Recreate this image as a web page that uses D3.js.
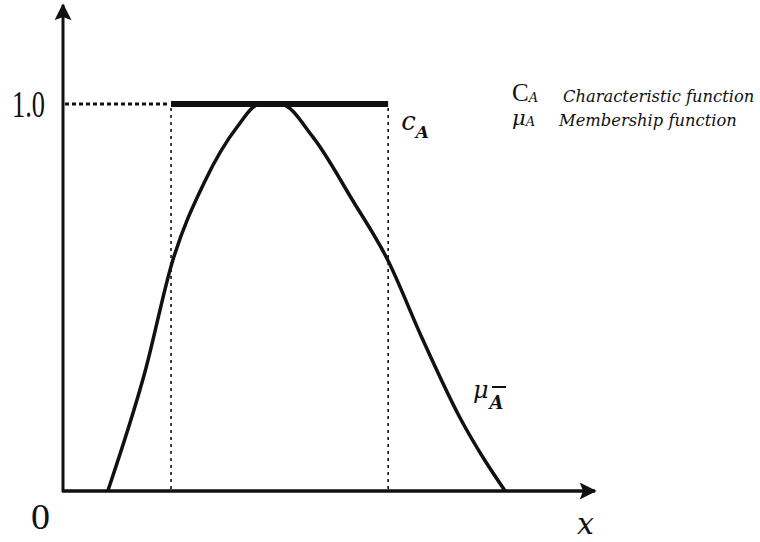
<!DOCTYPE html>
<html>
<head>
<meta charset="utf-8">
<script src="https://cdn.jsdelivr.net/npm/d3@7/dist/d3.min.js"></script>
<style>
  html, body { margin: 0; padding: 0; background: #fff; }
  svg { display: block; }
  text { font-family: "Liberation Serif", "DejaVu Serif", serif; fill: #111; }
  text.it, tspan.it { font-family: "DejaVu Serif", "Liberation Serif", serif; font-style: italic; }
</style>
</head>
<body>
<svg id="chart" width="760" height="542"></svg>
<script>
// Membership function of the fuzzy set (x in arbitrary units, grade in [0,1])
const membershipX = [0.85, 1.56, 2.07, 2.69, 3.30, 3.74, 4.12, 4.74, 5.50, 6.15, 6.83, 7.53, 8.00, 8.39];
const membershipY = [0.00, 0.31, 0.59, 0.80, 0.94, 1.00, 1.00, 0.915, 0.75, 0.60, 0.39, 0.19, 0.08, 0.00];

// Characteristic (crisp) function: 1 on [start, end], 0 elsewhere
const charInterval = [2.05, 6.17];
const charLevel = 1.0;

// Axis labels
const yTickLabels = ["0", "1.0"];
const yTickValues = [0, 1];

// Legend entries
const legendSymbols = ["C", "μ"];
const legendSubs = ["A", "A"];
const legendTexts = ["Characteristic function", "Membership function"];

const svg = d3.select("#chart");
const x = d3.scaleLinear().domain([0, 10]).range([63, 590]);
const y = d3.scaleLinear().domain([0, 1]).range([491, 104]);

const ink = "#111";

// Arrowhead marker
svg.append("defs").append("marker")
  .attr("id", "arrow")
  .attr("viewBox", "0 0 10 10")
  .attr("refX", 9).attr("refY", 5)
  .attr("markerUnits", "userSpaceOnUse")
  .attr("markerWidth", 24).attr("markerHeight", 17)
  .attr("orient", "auto")
  .append("path").attr("d", "M0,0 L10,5 L0,10 L2,5 Z").attr("fill", ink);

// Guide lines (dotted) at the characteristic interval
svg.append("line")
  .attr("x1", x(0) + 2).attr("x2", x(charInterval[0]) - 2)
  .attr("y1", y(charLevel)).attr("y2", y(charLevel))
  .attr("stroke", ink).attr("stroke-width", 3)
  .attr("stroke-dasharray", "4,3");
charInterval.forEach(v => {
  svg.append("line")
    .attr("x1", x(v)).attr("x2", x(v))
    .attr("y1", y(charLevel) + 4).attr("y2", y(0))
    .attr("stroke", ink).attr("stroke-width", 1.6)
    .attr("stroke-dasharray", "3,4");
});

// Axes with arrows
svg.append("line")
  .attr("x1", x(0)).attr("x2", x(0))
  .attr("y1", y(0) + 1).attr("y2", 5)
  .attr("stroke", ink).attr("stroke-width", 3)
  .attr("marker-end", "url(#arrow)");
svg.append("line")
  .attr("x1", x(0) - 1).attr("x2", x(10) + 5)
  .attr("y1", y(0)).attr("y2", y(0))
  .attr("stroke", ink).attr("stroke-width", 3.5)
  .attr("marker-end", "url(#arrow)");

// Characteristic function top segment
svg.append("line")
  .attr("x1", x(charInterval[0])).attr("x2", x(charInterval[1]))
  .attr("y1", y(charLevel)).attr("y2", y(charLevel))
  .attr("stroke", ink).attr("stroke-width", 6);

// Membership curve
const pts = membershipX.map((d, i) => [d, membershipY[i]]);
svg.append("path")
  .datum(pts)
  .attr("d", d3.line().x(d => x(d[0])).y(d => y(d[1])).curve(d3.curveMonotoneX))
  .attr("fill", "none").attr("stroke", ink).attr("stroke-width", 3.5)
  .attr("stroke-linejoin", "round");

// Y labels
svg.append("text")
  .attr("x", 12).attr("y", y(yTickValues[1]) + 13)
  .attr("font-size", 38).attr("textLength", 33).attr("lengthAdjust", "spacingAndGlyphs")
  .text(yTickLabels[1]);
svg.append("text")
  .attr("x", 31).attr("y", y(yTickValues[0]) + 38)
  .attr("font-size", 36).attr("textLength", 19).attr("lengthAdjust", "spacingAndGlyphs")
  .text(yTickLabels[0]);

// X axis label
svg.append("text").attr("class", "it")
  .attr("x", 577).attr("y", 534)
  .attr("font-size", 30)
  .text("x");

// Curve labels
const cLab = svg.append("text").attr("class", "it")
  .attr("x", x(charInterval[1]) + 13).attr("y", 130);
cLab.append("tspan").attr("font-size", 26).text("c");
cLab.append("tspan").attr("font-size", 17).attr("font-weight", "bold").attr("dy", 8).text("A");

const mLab = svg.append("text").attr("class", "it")
  .attr("x", 473).attr("y", 398);
mLab.append("tspan").attr("font-size", 24).text("μ");
mLab.append("tspan").attr("font-size", 18).attr("font-weight", "bold").attr("dx", 1).attr("dy", 11).text("A");
svg.append("line")
  .attr("x1", 492).attr("x2", 506).attr("y1", 387).attr("y2", 387)
  .attr("stroke", ink).attr("stroke-width", 2);

// Legend
const legendY = [101, 125];
legendSymbols.forEach((s, i) => {
  const t = svg.append("text").attr("x", 512).attr("y", legendY[i]);
  if (i === 0) {
    t.append("tspan").attr("font-size", 25).text(s);
  } else {
    t.append("tspan").attr("class", "it").attr("font-size", 21).text(s);
  }
  t.append("tspan").attr("class", "it").attr("font-size", 13).attr("dy", 1).text(legendSubs[i]);
});
// Legend descriptions, slightly condensed
const legendX = [563, 559];
legendTexts.forEach((s, i) => {
  svg.append("text").attr("class", "it")
    .attr("transform", `translate(${legendX[i]},${legendY[i] + 1}) scale(0.96,1)`)
    .attr("font-size", 17)
    .text(s);
});
</script>
</body>
</html>
